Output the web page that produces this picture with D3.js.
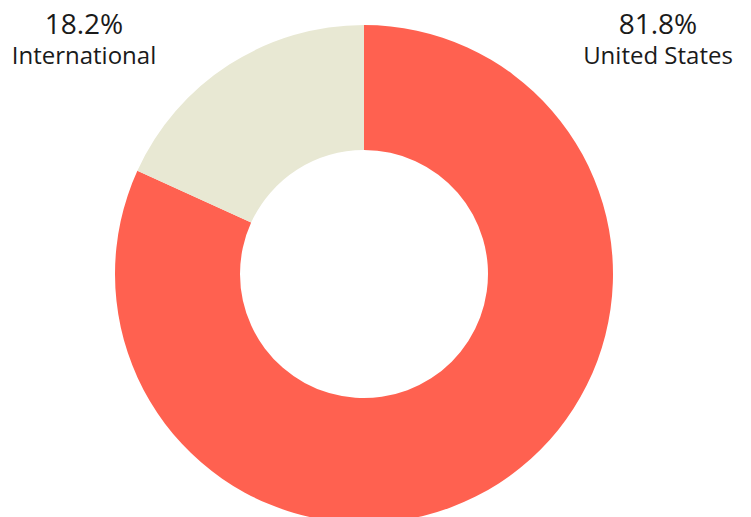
<!DOCTYPE html>
<html lang="en">
<head>
  <meta charset="utf-8">
  <title>Donut</title>
  <style>
    body { margin: 0; background: #fff; }
    text { font-family: 'Open Sans', sans-serif; fill: #1a1a1a; }
  </style>
  <script src="https://cdn.jsdelivr.net/npm/d3@7"></script>
</head>
<body>
  <svg id="chart" width="751" height="517"></svg>
  <script>
    // data
    var categories = ["United States", "International"];
    var values = [81.8, 18.2];
    var colors = ["#ff6150", "#e8e8d3"];

    var svg = d3.select("#chart");
    var cx = 364, cy = 274, outerR = 249, innerR = 124;

    var pie = d3.pie().sort(null).value(function (d) { return d; });
    var arc = d3.arc().innerRadius(innerR).outerRadius(outerR);

    var g = svg.append("g").attr("transform", "translate(" + cx + "," + cy + ")");
    g.selectAll("path")
      .data(pie(values))
      .enter().append("path")
      .attr("d", arc)
      .attr("fill", function (d, i) { return colors[i]; });

    // labels in the upper corners
    var labelX = [658, 84];
    categories.forEach(function (c, i) {
      var t = svg.append("text").attr("text-anchor", "middle");
      t.append("tspan").attr("x", labelX[i]).attr("y", 34)
        .style("font-size", "28px").text(values[i] + "%");
      t.append("tspan").attr("x", labelX[i]).attr("y", 64)
        .style("font-size", "24px").text(c);
    });
  </script>
</body>
</html>
